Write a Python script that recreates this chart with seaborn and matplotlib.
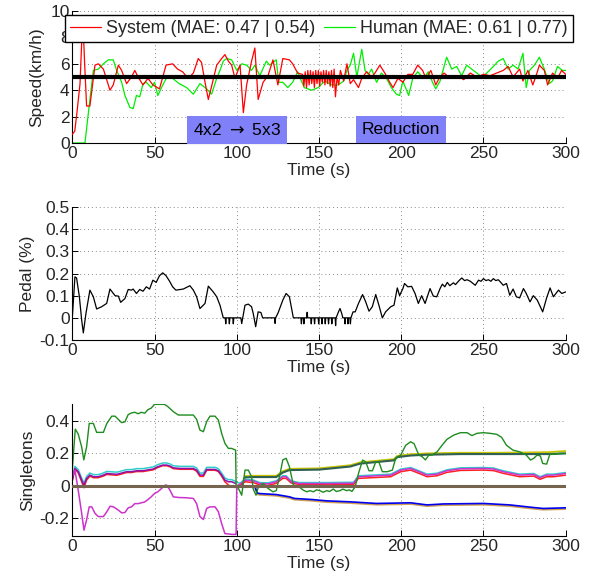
import numpy as np
import pandas as pd
import matplotlib
matplotlib.use("Agg")
import matplotlib.pyplot as plt
import seaborn as sns

# ---------------- data ----------------
# Speed: System (red)
sys_t = [0, 1.5, 3, 4.7, 5.7, 6.5, 7.5, 8.7, 10.7, 13.8, 15.8, 18.9, 22.9, 24.9, 28, 30, 33, 36, 38, 40,
         43, 46, 49, 53, 57, 61, 64, 67, 70.5, 73.6, 76.6, 78.6, 80.7, 82.7, 84.7, 87.8, 90.8, 92.8, 94.9,
         96.9, 98.9, 102, 104, 106, 109, 111, 113, 116, 119, 122, 125, 128, 132, 134, 137,
         140, 140.8, 141.6, 142.4, 143.2, 144, 144.8, 145.6, 146.4, 147.2, 148, 148.8, 149.6, 150.4, 151.2,
         152, 152.8, 153.6, 154.4, 155.2, 156, 156.8, 157.6, 158.4, 159.2, 160, 161, 162, 163, 165, 167,
         169, 171, 174, 176, 179, 182, 184, 187, 190, 193, 195, 198, 201, 204, 207, 210, 213, 215, 218,
         221, 223, 226, 230, 234, 238, 242, 246, 250, 254, 258, 262, 265, 268, 272, 274, 277, 280, 282,
         284, 287, 289, 292, 295, 297.5, 300]
sys_v = [0.65, 0.9, 2.5, 4.5, 7.6, 9.2, 6.0, 2.8, 2.8, 5.9, 6.0, 5.6, 4.0, 4.4, 5.9, 5.5, 4.5, 5.0, 5.5, 5.0,
         4.4, 4.9, 4.4, 4.1, 5.9, 6.0, 5.6, 5.4, 4.9, 5.3, 6.4, 6.1, 4.6, 3.3, 4.3, 5.9, 6.4, 6.7, 6.2,
         5.9, 4.9, 5.9, 2.3, 4.4, 6.2, 7.2, 3.3, 4.6, 5.1, 6.3, 4.4, 6.4, 6.3, 6.0, 5.3,
         5.2, 4.3, 5.4, 4.2, 5.5, 4.4, 5.5, 4.5, 5.4, 4.2, 5.5, 4.5, 5.5, 4.3, 5.4,
         4.6, 5.5, 4.4, 5.5, 4.5, 5.4, 4.3, 5.5, 4.2, 5.6, 3.5, 5.0, 4.4, 5.5, 4.7, 6.0,
         4.5, 4.8, 4.2, 4.9, 5.4, 5.0, 5.3, 5.9, 5.3, 4.6, 4.2, 4.9, 4.6, 5.2, 5.2, 5.9, 5.5, 4.9, 5.5,
         4.4, 4.9, 5.3, 4.9, 5.1, 4.8, 5.3, 5.0, 5.2, 5.1, 5.3, 5.5, 5.8, 5.0, 5.6, 4.7, 5.5, 4.4, 5.1,
         5.9, 5.5, 4.4, 5.3, 4.9, 5.5, 5.2]

# Speed: Human (green)
hum_t = [0, 7.7, 10.7, 12.8, 15.8, 18.9, 21.9, 24.9, 27, 30, 32, 35, 37, 39, 41, 43, 45, 48, 50, 52, 55,
         58, 61, 65, 69.5, 73.6, 77.6, 81.7, 84.7, 87.8, 89.8, 91.8, 93.8, 96.9, 100, 103, 106, 109, 111,
         114, 118, 120, 124, 125.5, 128, 131, 134, 137, 141, 145.5, 149.5, 153.6, 157.7, 161.7, 165, 167,
         169, 171, 173, 176, 178, 180, 182, 185, 188, 191, 194, 197, 199, 201, 204.5, 207, 210, 213.5,
         216.5, 219, 221, 223.6, 227.6, 230.7, 233.7, 236.7, 239.8, 242.8, 246, 249, 252, 256, 259, 262,
         265, 268, 271, 274, 276, 278, 281, 284, 287, 290, 292, 295, 298, 300]
hum_v = [0, 0, 3.3, 5.5, 5.6, 6.0, 6.3, 6.3, 5.5, 4.6, 3.6, 2.7, 2.6, 3.6, 3.5, 4.5, 4.6, 4.2, 4.6, 3.6, 4.4,
         5.1, 4.9, 4.5, 4.2, 3.7, 4.5, 4.1, 3.7, 4.9, 5.5, 6.2, 6.4, 6.3, 5.5, 6.0, 5.9, 5.5, 5.9,
         5.1, 6.2, 5.9, 6.3, 4.6, 4.6, 4.2, 4.6, 5.4, 4.2, 4.0, 4.2, 4.7, 4.4, 4.4, 4.7, 5.5,
         5.9, 6.8, 5.0, 7.1, 5.5, 5.2, 5.6, 4.6, 5.3, 4.9, 4.2, 3.7, 3.6, 4.7, 3.6, 4.9, 5.4, 4.9,
         5.4, 4.6, 4.1, 4.7, 6.5, 5.6, 5.8, 5.1, 5.9, 5.6, 5.3, 5.0, 5.3, 5.8, 6.2, 6.4,
         5.6, 5.9, 5.6, 6.8, 4.2, 5.5, 5.9, 6.5, 5.6, 4.5, 4.7, 5.8, 5.5, 5.5]

ref_t = [0, 300]
ref_v = [5, 5]

legend_labels = ["System (MAE: 0.47 | 0.54)", "Human (MAE: 0.61 | 0.77)"]
annot_text = ["4x2 $\\rightarrow$ 5x3", "Reduction"]
annot_t = [100, 200]
annot_v = [1.0, 1.0]

# Pedal
ped_t = [0, 1.6, 2.6, 4.3, 5.7, 6.7, 8.3, 10.7, 12.8, 14.8, 17.8, 20.9, 22.9, 26, 28, 29.4, 32, 34, 36, 37,
         39, 41, 43, 45, 47, 49, 51, 53, 55, 57, 59, 61, 63, 67.5, 71.5, 73.6, 75.6, 77.6, 80.7, 82.7, 85.7,
         87.8, 89.8, 91.8,
         93, 93.3, 93.6, 95.2, 95.5, 95.8, 97.6, 97.9, 98.2,
         102.5, 103, 105, 107, 109, 110, 111.5, 113, 114.7, 115.7, 123, 123.3, 123.6, 125, 128, 130, 132,
         134.4,
         139, 139.3, 139.6, 140.5, 140.8, 141.1, 142.5, 142.8, 143.1,
         145, 145.3, 145.6, 147, 147.3, 147.6, 149.5, 149.8, 150.1, 151.5, 151.8, 152.1, 153.5, 153.8,
         154.1, 155.5, 155.8, 156.1, 157.5, 157.8, 158.1, 159.8, 160.1, 160.4,
         162, 162.8, 163.8, 164.5, 165.5, 165.8, 166.1, 167.3, 167.6, 167.9, 168.8, 169.1, 169.4,
         170.7, 172, 174, 176.5, 178.4, 180.4, 182.4, 184.5, 186.5, 188.5, 190.5, 193.6, 195.6, 197.6,
         199, 201, 202, 204, 206.3, 208.4, 210.4, 212.4, 214.5, 217.5, 219.5, 221.6, 223.6, 225, 226.5,
         228, 229.5, 231.7, 233, 235, 236.8, 238.5, 240, 242, 245, 247, 248.5, 250, 251.5, 253, 254.5,
         256, 257.5, 259, 260.5, 262, 264, 266, 268, 270, 272, 274.3, 276, 278.3, 280.3, 282.7, 286,
         288.4, 290.5, 292.5, 295.6, 297.6, 300]
ped_v = [0, 0.185, 0.18, 0.095, -0.01, -0.068, 0.02, 0.125, 0.095, 0.04, 0.05, 0.065, 0.13, 0.10, 0.098,
         0.07, 0.087, 0.128, 0.125, 0.13, 0.11, 0.128, 0.12, 0.14, 0.13, 0.17, 0.16, 0.19, 0.203, 0.19,
         0.167, 0.14, 0.125, 0.13, 0.145, 0.125, 0.095, 0.042, 0.065, 0.143, 0.117, 0.095, 0.057, 0,
         0, -0.027, 0, 0, -0.027, 0, 0, -0.027, 0,
         0, -0.026, 0.057, 0.062, 0.05, 0.02, -0.04, 0.027, 0.024, 0, 0, -0.025, 0, 0.02, 0.08, 0.11, 0.095,
         0,
         0, -0.027, 0, 0, -0.027, 0, 0, 0.025, 0,
         0, -0.027, 0, 0, -0.027, 0, 0, -0.027, 0, 0, -0.027, 0, 0, -0.027,
         0, 0, -0.027, 0, 0, -0.027, 0, 0, -0.035, 0,
         0.03, 0.042, 0.02, 0, 0, -0.027, 0, 0, -0.027, 0, 0, -0.027, 0,
         0.027, 0.027, 0.065, 0.105, 0.072, 0.03, 0.05, 0.105, 0.055, 0, 0.027, 0.05, 0.057, 0.135,
         0.10, 0.132, 0.155, 0.14, 0.142, 0.11, 0.065, 0.10, 0.065, 0.132, 0.098, 0.095, 0.132, 0.152, 0.14,
         0.16, 0.145, 0.158, 0.15, 0.167, 0.18, 0.168, 0.172, 0.165, 0.147, 0.17, 0.165, 0.177, 0.168,
         0.172, 0.165, 0.177, 0.168, 0.172, 0.16, 0.147, 0.155, 0.102, 0.13, 0.095, 0.09, 0.132, 0.11,
         0.072, 0.10, 0.08, 0.027, 0.09, 0.135, 0.095, 0.125, 0.11, 0.117]

# Singletons
grn_t = [0, 1.8, 3.6, 5.7, 7, 8.7, 10.3, 12.8, 14.8, 18.9, 21, 24, 26, 28, 30, 32, 34, 36, 38, 40, 42, 44,
         46, 48, 50, 53, 56, 58, 61.4, 64.5, 69.5, 73.6, 75.6, 77.6, 79.7, 81.7, 83.7, 86.8, 88.8, 90.8,
         92.8, 94.9, 96.9, 99.3, 99.6, 101, 103, 105, 107, 109, 110, 111.7, 113, 116, 119, 122, 124, 126,
         128, 130, 132, 134.4, 137, 140.5, 142.5, 144.5, 146.6, 148.5, 150.6, 152.5, 154.7, 156.5, 158.7,
         160.5, 162.8, 164.5, 166.8, 168.5, 170, 172, 174, 176.5, 178.4, 180.4, 182.5, 184.5, 186.5, 188.5,
         191.5, 194.6, 196.6, 199.7, 202.7, 205.7, 207.8, 210.7, 212.7, 214.7, 216.8, 218.8, 221.8, 224.8,
         227.8, 231.9, 236, 240, 243, 246, 250, 254, 258, 261, 264, 268, 272, 276, 278.6, 280.6, 282.6,
         284.6, 286, 288.4, 290.4, 293.4, 296.5, 300]
grn_v = [0.10, 0.35, 0.32, 0.24, 0.16, 0.24, 0.385, 0.385, 0.33, 0.33, 0.385, 0.43, 0.43, 0.41, 0.39, 0.395,
         0.44, 0.45, 0.454, 0.445, 0.454, 0.448, 0.47, 0.48, 0.503, 0.503, 0.503, 0.49, 0.458, 0.437, 0.437,
         0.437, 0.41, 0.344, 0.334, 0.396, 0.43, 0.43, 0.406, 0.324, 0.262, 0.231, 0.231, 0.22, 0.0, -0.016,
         -0.058, 0.097, 0.097, 0.056, -0.02, -0.058, -0.01, 0.014, -0.016, -0.037, -0.03, 0.056, 0.16, 0.17,
         0.118, 0.004, 0.0, -0.027, -0.037, -0.03, -0.037, -0.025, -0.03, -0.04, -0.03, -0.035, -0.02,
         -0.035, -0.03, -0.02, -0.03, -0.025, -0.035, -0.006, 0.076, 0.159, 0.148, 0.093, 0.093, 0.148,
         0.145, 0.087, 0.087, 0.097, 0.169, 0.19, 0.25, 0.272, 0.26, 0.19, 0.18, 0.16, 0.19, 0.19, 0.21,
         0.25, 0.287, 0.313, 0.328, 0.328, 0.31, 0.324, 0.328, 0.324, 0.318, 0.3, 0.25, 0.22, 0.21, 0.19,
         0.159, 0.17, 0.19, 0.184, 0.138, 0.134, 0.196, 0.196, 0.2, 0.2]

mag_t = [0, 1.6, 3.6, 5.7, 7.1, 8.7, 10.3, 11.8, 13.8, 15.8, 18.9, 21, 23, 25, 28, 30, 32, 34, 36, 38, 40,
         42, 44, 46, 48, 50, 52, 54.3, 56.4, 57.4, 59.4, 61.4, 64.4, 69.5, 73.6, 75.6, 77.6, 79.7, 81.7,
         83.7, 86.8, 88.8, 90.8, 92.8, 97, 99.6, 100, 102, 105, 110, 114, 119, 124, 128, 130, 133, 138, 155,
         171, 174, 193.6, 199.7, 205.7, 210.7, 215.7, 221.8, 227.8, 236, 250, 256, 262, 272, 280.6, 284.4,
         288.4, 292.5, 300]
mag_v = [0.056, 0.097, -0.027, -0.17, -0.274, -0.21, -0.13, -0.13, -0.17, -0.19, -0.19, -0.16, -0.126,
         -0.13, -0.15, -0.167, -0.165, -0.136, -0.13, -0.11, -0.11, -0.105, -0.1, -0.085, -0.068, -0.047,
         -0.037, -0.016, 0.004, 0.004, -0.027, -0.068, -0.072, -0.074, -0.078, -0.11, -0.19, -0.208, -0.14,
         -0.13, -0.13, -0.16, -0.233, -0.295, -0.3, -0.3, 0.0, 0.01, 0.035, 0.03, 0.014, 0.012, 0.025,
         0.056, 0.056, 0.025, 0.014, 0.014, 0.016, 0.056, 0.066, 0.097, 0.107, 0.087, 0.066, 0.072, 0.093,
         0.105, 0.107, 0.104, 0.087, 0.066, 0.07, 0.05, 0.066, 0.066, 0.076]

cy_t = [0, 1.6, 3.6, 5.7, 7.1, 8.7, 10.7, 12.8, 15.8, 18.9, 21, 27, 29, 33, 36, 39, 43, 47, 49, 52, 55, 57.4,
        59.4, 61.4, 65.5, 73.6, 75.6, 77.6, 79.7, 81.7, 86.8, 88.8, 90.8, 92.8, 94.9, 97, 99.3, 100, 102,
        105, 110, 114, 119, 124, 128, 130, 133, 138, 155, 171, 174, 193.6, 199.7, 205.7, 210.7, 215.7,
        221.8, 227.8, 236, 250, 256, 262, 272, 280.6, 284.4, 288.4, 292.5, 300]
cy_v = [0.05, 0.12, 0.1, 0.048, 0.018, 0.058, 0.079, 0.069, 0.069, 0.079, 0.089, 0.084, 0.089, 0.1, 0.1,
        0.106, 0.106, 0.113, 0.116, 0.131, 0.141, 0.141, 0.135, 0.124, 0.12, 0.12, 0.11, 0.079, 0.079, 0.114,
        0.114, 0.106, 0.079, 0.048, 0.038, 0.038, 0.027, 0.02, 0.016, 0.041, 0.036, 0.02, 0.018, 0.031,
        0.062, 0.062, 0.031, 0.02, 0.02, 0.022, 0.062, 0.072, 0.103, 0.113, 0.093, 0.072, 0.078, 0.099,
        0.111, 0.113, 0.11, 0.093, 0.072, 0.076, 0.056, 0.072, 0.072, 0.082]

rd_t = cy_t
rd_v = [0.03, 0.105, 0.08, 0.025, -0.012, 0.035, 0.06, 0.05, 0.05, 0.06, 0.07, 0.065, 0.07, 0.082, 0.082,
        0.088, 0.088, 0.095, 0.098, 0.113, 0.124, 0.124, 0.117, 0.106, 0.102, 0.102, 0.09, 0.058, 0.058,
        0.096, 0.096, 0.088, 0.06, 0.025, 0.005, -0.008, -0.01, -0.005, 0.0, 0.025, 0.02, 0.005, 0.003,
        0.015, 0.046, 0.046, 0.018, 0.008, 0.006, 0.008, 0.046, 0.056, 0.087, 0.097, 0.077, 0.056, 0.062,
        0.083, 0.095, 0.097, 0.094, 0.077, 0.056, 0.06, 0.04, 0.056, 0.056, 0.066]

pu_t = [0, 1.6, 3.6, 5.7, 7.1, 8.7, 10.7, 12.8, 15.8, 18.9, 21, 27, 29, 33, 36, 39, 43, 47, 49, 52, 55, 57.4,
        59.4, 61.4, 65.5, 73.6, 75.6, 77.6, 79.7, 81.7, 86.8, 88.8, 90.8, 92.8, 94.9, 97, 99.3]
pu_v = [0.035, 0.107, 0.087, 0.035, 0.004, 0.045, 0.066, 0.056, 0.056, 0.066, 0.076, 0.071, 0.076, 0.087,
        0.087, 0.093, 0.093, 0.1, 0.103, 0.118, 0.128, 0.128, 0.122, 0.111, 0.107, 0.107, 0.097, 0.066,
        0.066, 0.101, 0.101, 0.093, 0.066, 0.035, 0.025, 0.025, 0.014]

yel_t = [100, 103, 105, 110, 124, 128, 132, 150, 169, 175, 195.6, 197.6, 205.7, 215.5, 236, 256, 276, 290, 300]
yel_v = [0.0, 0.005, 0.06, 0.062, 0.062, 0.09, 0.105, 0.108, 0.127, 0.145, 0.165, 0.185, 0.195, 0.2, 0.204,
         0.204, 0.206, 0.208, 0.215]
teal_t = yel_t
teal_v = [-0.003, 0.0, 0.052, 0.054, 0.054, 0.082, 0.097, 0.1, 0.119, 0.137, 0.157, 0.177, 0.187, 0.192,
          0.196, 0.196, 0.196, 0.196, 0.2]

blu_t = [100, 104, 111, 112.5, 114, 124, 132, 135, 146, 154.7, 169, 185, 205.7, 215.7, 225.6, 250, 266,
         280.3, 286.4, 300]
blu_v = [0.0, -0.002, -0.004, -0.045, -0.048, -0.054, -0.068, -0.078, -0.085, -0.093, -0.099, -0.109,
         -0.105, -0.118, -0.112, -0.109, -0.118, -0.134, -0.14, -0.136]
org_t = blu_t
org_v = [0.0, -0.005, -0.01, -0.053, -0.056, -0.062, -0.076, -0.086, -0.093, -0.101, -0.107, -0.117,
         -0.113, -0.126, -0.12, -0.117, -0.126, -0.142, -0.148, -0.144]

zero_t = [0, 300]
zero_v = [0, 0]

# ---------------- style ----------------
sns.set_theme(style="white")
plt.rcParams["font.family"] = ["Liberation Sans", "DejaVu Sans"]
plt.rcParams["xtick.direction"] = "in"
plt.rcParams["ytick.direction"] = "in"
FS = 12.5

fig = plt.figure(figsize=(5.98, 5.83), dpi=100)
left, width = 0.1209, 0.8251
ax1 = fig.add_axes([left, 0.7547, width, 0.2264])
ax2 = fig.add_axes([left, 0.4168, width, 0.2281])
ax3 = fig.add_axes([left, 0.0806, width, 0.2264])


def style_axis(ax, ylim, yticks, ylabel, yfmt=None, ylpad=3):
    ax.set_xlim(0, 300)
    ax.set_ylim(*ylim)
    ax.set_xticks([0, 50, 100, 150, 200, 250, 300])
    ax.set_yticks(yticks)
    if yfmt:
        ax.set_yticklabels([yfmt(v) for v in yticks])
    ax.tick_params(labelsize=FS, length=4, width=0.7, color="black", pad=2,
                   top=False, right=False, bottom=True, left=True)
    ax.grid(True, linestyle=(0, (1, 3)), color="#888888", linewidth=0.7)
    for s in ["top", "right"]:
        ax.spines[s].set_visible(False)
    for s in ["left", "bottom"]:
        ax.spines[s].set_color("black")
        ax.spines[s].set_linewidth(0.8)
    ax.set_xlabel("Time (s)", fontsize=FS, labelpad=1.5)
    ax.set_ylabel(ylabel, fontsize=FS, labelpad=ylpad)
    ax.set_facecolor("white")


def line(ax, t, v, color, lw, label=None, z=2):
    sns.lineplot(x=t, y=v, ax=ax, color=color, linewidth=lw, estimator=None, sort=False,
                 label=label, legend=False, zorder=z)


# --- top: speed ---
line(ax1, sys_t, sys_v, "#ff0000", 0.9, legend_labels[0], z=3)
line(ax1, hum_t, hum_v, "#00ee00", 0.9, legend_labels[1], z=2)
line(ax1, ref_t, ref_v, "black", 3.0, z=4)
style_axis(ax1, (0, 10), [0, 2, 4, 6, 8, 10], "Speed(km/h)", ylpad=4.5)
for txt, tx, ty in zip(annot_text, annot_t, annot_v):
    ax1.text(tx, ty, txt, ha="center", va="center", fontsize=FS, color="black", zorder=6,
             bbox=dict(boxstyle="square,pad=0.34", facecolor="#8080f8", edgecolor="none"))
h = ax1.get_lines()[:2]
leg = ax1.legend(h, legend_labels, loc="upper center", bbox_to_anchor=(0.5, 0.972), ncol=2,
                 fontsize=12.9, frameon=True, fancybox=False, borderaxespad=0, borderpad=0.3,
                 handlelength=1.7, handletextpad=0.3, columnspacing=0.5, framealpha=1)
leg.get_frame().set_edgecolor("black")
leg.get_frame().set_linewidth(1.0)
leg.set_zorder(10)

# --- middle: pedal ---
line(ax2, ped_t, ped_v, "black", 0.9)
style_axis(ax2, (-0.1, 0.5), [-0.1, 0, 0.1, 0.2, 0.3, 0.4, 0.5], "Pedal (%)",
           yfmt=lambda v: "0" if abs(v) < 1e-9 else f"{v:g}")

# --- bottom: singletons ---
line(ax3, org_t, org_v, "#d0a050", 1.2)
line(ax3, blu_t, blu_v, "#0000ee", 1.2)
line(ax3, yel_t, yel_v, "#c8c400", 1.3)
line(ax3, teal_t, teal_v, "#2f5f55", 1.5)
line(ax3, cy_t, cy_v, "#30cccc", 1.1)
line(ax3, rd_t, rd_v, "#ff2020", 1.1)
line(ax3, pu_t, pu_v, "#9010a8", 1.1)
line(ax3, mag_t, mag_v, "#cc33cc", 1.1)
line(ax3, grn_t, grn_v, "#1e8c1e", 1.0)
line(ax3, zero_t, zero_v, "#76654e", 2.2, z=5)
style_axis(ax3, (-0.31, 0.505), [-0.2, 0, 0.2, 0.4], "Singletons",
           yfmt=lambda v: "0" if abs(v) < 1e-9 else f"{v:g}")

fig.savefig("out.png", dpi=100)
